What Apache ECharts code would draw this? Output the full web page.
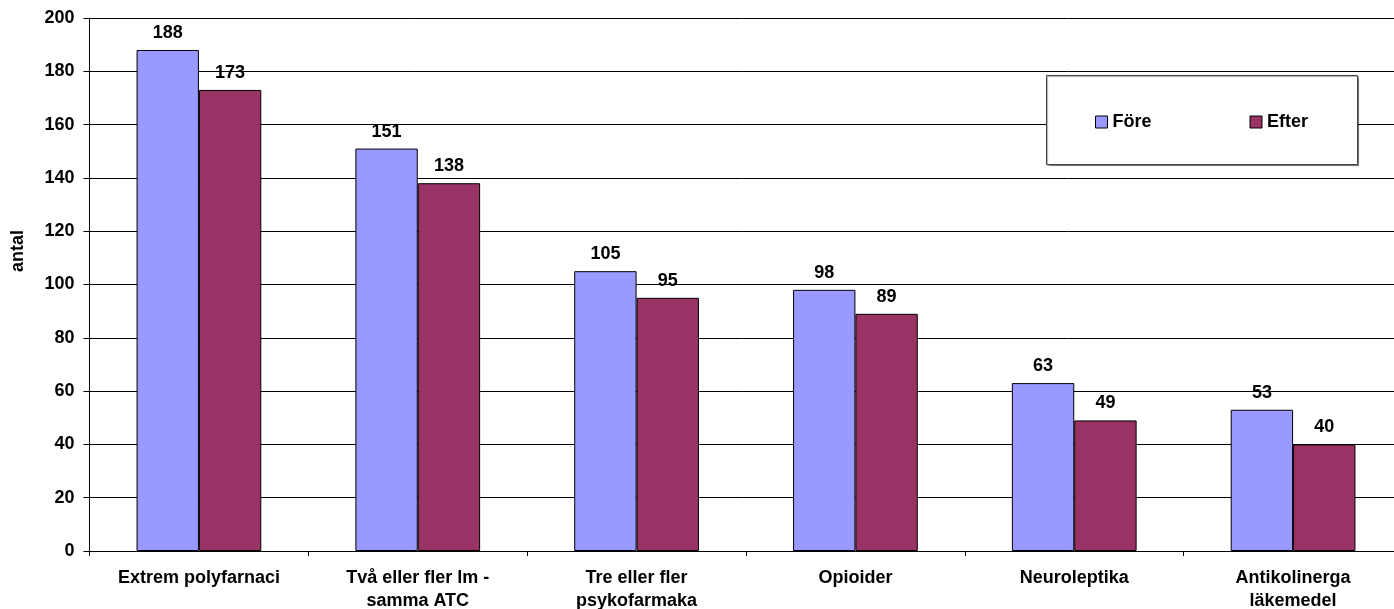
<!DOCTYPE html>
<html>
<head>
<meta charset="utf-8">
<script src="https://cdn.jsdelivr.net/npm/echarts@6/dist/echarts.min.js"></script>
<style>
  html, body { margin: 0; padding: 0; background: #fff; }
  #chart { width: 1394px; height: 609px; }
</style>
</head>
<body>
<div id="chart"></div>
<script>
// Läkemedelsgrupper: antal före och efter genomgång
const categories = [
  'Extrem polyfarnaci',
  'Två eller fler lm -\nsamma ATC',
  'Tre eller fler\npsykofarmaka',
  'Opioider',
  'Neuroleptika',
  'Antikolinerga\nläkemedel'
];
const seriesNames = ['Före', 'Efter'];
const fore = [188, 151, 105, 98, 63, 53];
const efter = [173, 138, 95, 89, 49, 40];
const yTicks = { min: 0, max: 200, interval: 20 };

const FONT = 'Liberation Sans, Arial, sans-serif';
const FS = 18;

const chart = echarts.init(document.getElementById('chart'), null, { renderer: 'canvas' });

function barSeries(name, data, color) {
  return {
    name: name,
    type: 'bar',
    data: data,
    barGap: '0%',
    barCategoryGap: '43%',
    itemStyle: { color: color, borderColor: '#000', borderWidth: 1 },
    label: {
      show: true,
      position: 'top',
      distance: 8,
      color: '#000',
      fontFamily: FONT,
      fontWeight: 'bold',
      fontSize: FS
    }
  };
}

chart.setOption({
  animation: false,
  backgroundColor: '#fff',
  grid: {
    left: 89.5, top: 18, width: 1313, height: 533,
    containLabel: false,
    outerBoundsMode: 'none'
  },
  legend: {
    data: seriesNames,
    left: 1095,
    top: 113,
    padding: 0,
    z: 20,
    icon: 'rect',
    itemWidth: 12,
    itemHeight: 12,
    itemGap: 98,
    textStyle: { fontFamily: FONT, fontWeight: 'bold', fontSize: FS, color: '#000' },
    itemStyle: { borderColor: '#000', borderWidth: 1 }
  },
  graphic: [
    {
      type: 'rect',
      z: 1,
      shape: { x: 1046.5, y: 75.5, width: 311, height: 89 },
      style: {
        fill: '#fff', stroke: '#444', lineWidth: 1,
        shadowColor: 'rgba(0,0,0,0.35)', shadowOffsetX: 1, shadowOffsetY: 1, shadowBlur: 1
      }
    },
    {
      type: 'text',
      x: 18, y: 251,
      rotation: Math.PI / 2,
      style: {
        text: 'antal', fill: '#000',
        font: 'bold ' + FS + 'px ' + FONT,
        textAlign: 'center', textVerticalAlign: 'middle'
      }
    }
  ],
  xAxis: {
    type: 'category',
    data: categories,
    axisLine: { lineStyle: { color: '#000', width: 1 } },
    axisTick: { show: true, length: 5, lineStyle: { color: '#000' } },
    axisLabel: {
      interval: 0,
      margin: 16,
      color: '#000',
      fontFamily: FONT,
      fontWeight: 'bold',
      fontSize: FS,
      lineHeight: 23
    }
  },
  yAxis: {
    type: 'value',
    min: yTicks.min,
    max: yTicks.max,
    interval: yTicks.interval,
    axisLine: { show: true, lineStyle: { color: '#000', width: 1 } },
    axisTick: { show: true, length: 6, lineStyle: { color: '#000' } },
    axisLabel: {
      margin: 15,
      color: '#000',
      fontFamily: FONT,
      fontWeight: 'bold',
      fontSize: FS
    },
    splitLine: { show: true, lineStyle: { color: '#000', width: 1 } }
  },
  series: [
    barSeries(seriesNames[0], fore, '#9999FF'),
    barSeries(seriesNames[1], efter, '#993366')
  ]
});
</script>
</body>
</html>
